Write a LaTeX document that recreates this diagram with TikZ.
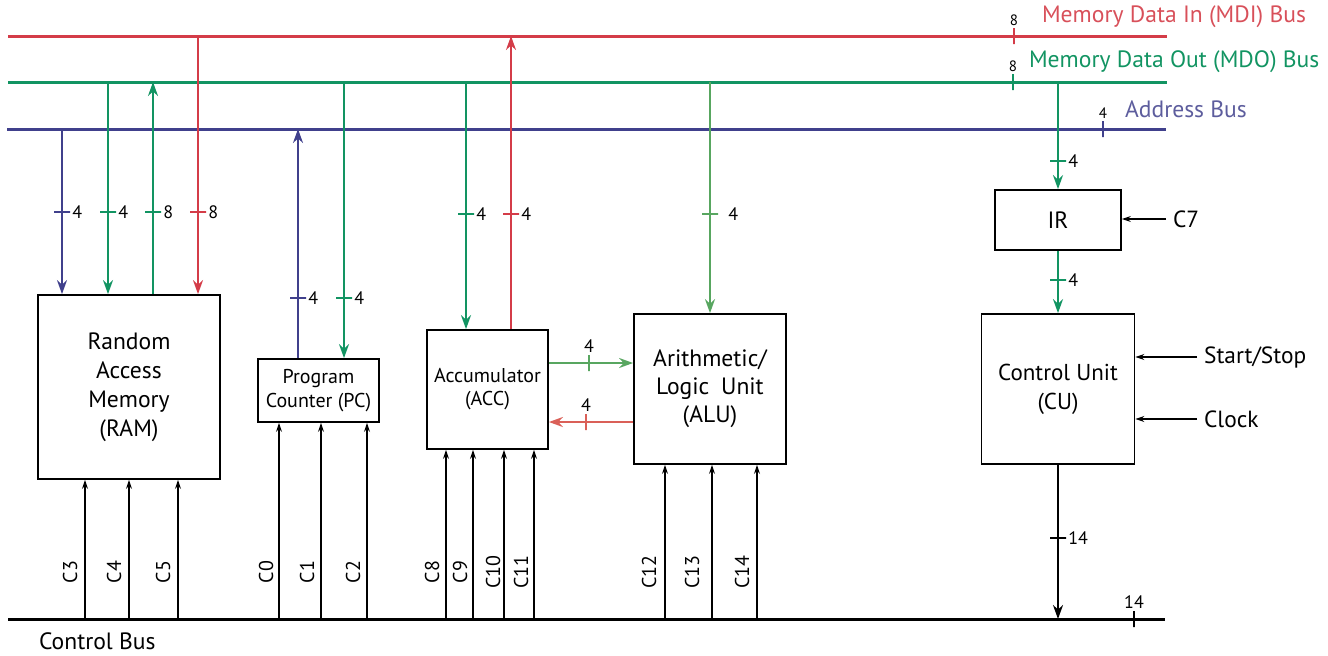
\documentclass[tikz,border=0pt]{standalone}
\usepackage{fontspec}
\setmainfont{PT Sans}
\usetikzlibrary{arrows.meta}
\definecolor{mdired}{RGB}{212,60,72}
\definecolor{mdogreen}{RGB}{18,148,98}
\definecolor{addrblue}{RGB}{64,64,140}
\definecolor{alugreen}{RGB}{88,166,96}
\definecolor{alured}{RGB}{218,96,88}
\begin{document}
\begin{tikzpicture}[x=0.5pt, y=-0.5pt, >=Stealth]
\tikzset{
  unit/.style={draw, line width=0.9pt, align=center, inner sep=0pt, font=\fontsize{11.8}{14.5}\selectfont},
  bus/.style={line width=1.5pt},
  wire/.style={line width=1pt, -{Stealth[length=7pt, width=5pt]}},
  ctl/.style={line width=0.6pt, -{Stealth[length=4.5pt, width=3pt]}},
  hbar/.style={draw, line width=0.7pt, minimum width=8pt, minimum height=0pt, inner sep=0pt, outer sep=0pt},
  vbar/.style={hbar, minimum width=0pt, minimum height=8pt},
  num/.style={font=\fontsize{9}{10}\selectfont, inner sep=1pt},
  busnum/.style={font=\fontsize{7.5}{8}\selectfont, inner sep=1pt},
  cname/.style={font=\fontsize{10}{11}\selectfont, rotate=90, inner sep=0pt},
  side/.style={anchor=west, font=\fontsize{11.7}{13}\selectfont},
  buslbl/.style={anchor=west, font=\fontsize{11.8}{13}\selectfont}
}
\useasboundingbox (0,0) rectangle (1328,655);

% buses
\draw[bus, mdired] (8,36) -- (1167,36);
\draw[bus, mdogreen] (8,82) -- (1167,82);
\draw[bus, addrblue] (7,129) -- (1166,129);
\draw[bus] (8,619) -- (1165,619);
\node[vbar, mdired, label={[busnum]above:8}] (mdiw) at (1014,36) {};
\node[vbar, mdogreen, label={[busnum]above:8}] (mdow) at (1013,82) {};
\node[vbar, addrblue, label={[busnum]above:4}] (addrw) at (1103,129) {};
\node[vbar, label={[num]above:14}] (ctlw) at (1134,619) {};
\node[buslbl, text=mdired!90!white] (mdi) at (1035,17) {Memory Data In (MDI) Bus};
\node[buslbl, text=mdogreen] (mdo) at (1022,62) {Memory Data Out (MDO) Bus};
\node[buslbl, text=addrblue!85!white] (addr) at (1118,109) {Address Bus};
\node[buslbl] (ctlbus) at (32,641) {Control Bus};

% units
\node[unit, minimum width=91pt, minimum height=92pt] (ram) at (129,387) {Random\\Access\\Memory\\(RAM)};
\node[unit, minimum width=60.5pt, minimum height=31.5pt, font=\fontsize{10}{12}\selectfont] (pc) at (318.5,390.5) {Program\\Counter (PC)};
\node[unit, minimum width=60.5pt, minimum height=59.5pt, font=\fontsize{10}{11.5}\selectfont] (acc) at (487.5,389.5) {Accumulator\\(ACC)};
\node[unit, minimum width=76pt, minimum height=75pt, font=\fontsize{11.8}{14}\selectfont] (alu) at (710,389) {Arithmetic/\\Logic\enspace Unit\\(ALU)};
\node[unit, minimum width=63pt, minimum height=30pt] (ir) at (1058,220) {IR};
\node[unit, minimum width=76.5pt, minimum height=75pt, font=\fontsize{11.5}{14.5}\selectfont] (cu) at (1058,389) {Control Unit\\(CU)};

% RAM
\coordinate (ramA) at (62,129);
\coordinate (ramIn) at (108,82);
\coordinate (ramOut) at (153,82);
\coordinate (ramMdi) at (198,36);
\draw[wire, addrblue] (ramA) -- (ramA |- ram.north);
\draw[wire, mdogreen] (ramIn) -- (ramIn |- ram.north);
\draw[wire, mdogreen] (ramOut |- ram.north) -- (ramOut);
\draw[wire, mdired] (ramMdi) -- (ramMdi |- ram.north);
\node[hbar, addrblue, label={[num]right:4}] (ramAw) at (62,212) {};
\node[hbar, mdogreen, label={[num]right:4}] (ramInw) at (108,212) {};
\node[hbar, mdogreen, label={[num]right:8}] (ramOutw) at (153,212) {};
\node[hbar, mdired, label={[num]right:8}] (ramMdiw) at (198,212) {};

% PC
\coordinate (pcA) at (298,129);
\coordinate (pcIn) at (344,82);
\draw[wire, addrblue] (pcA |- pc.north) -- (pcA);
\draw[wire, mdogreen] (pcIn) -- (pcIn |- pc.north);
\node[hbar, addrblue, label={[num]right:4}] (pcAw) at (298,298) {};
\node[hbar, mdogreen, label={[num]right:4}] (pcInw) at (344,298) {};

% ACC and ALU
\coordinate (accIn) at (466,82);
\coordinate (accOut) at (511,36);
\coordinate (aluIn) at (710,82);
\draw[wire, mdogreen] (accIn) -- (accIn |- acc.north);
\draw[wire, mdired] (accOut |- acc.north) -- (accOut);
\draw[wire, alugreen] (aluIn) -- (aluIn |- alu.north);
\draw[wire, alugreen] (acc.east |- 0,363) -- (alu.west |- 0,363);
\draw[wire, alured] (alu.west |- 0,422) -- (acc.east |- 0,422);
\node[hbar, mdogreen, label={[num]right:4}] (accInw) at (466,214) {};
\node[hbar, mdired, label={[num]right:4}] (accOutw) at (511,214) {};
\node[hbar, alugreen, label={[num, xshift=4pt]right:4}] (aluInw) at (710,214) {};
\node[vbar, alugreen, label={[num]above:4}] (accAluw) at (589,363) {};
\node[vbar, alured, label={[num]above:4}] (aluAccw) at (586,422) {};

% IR and CU
\coordinate (irIn) at (1058,82);
\coordinate (cuBus) at (1058,619);
\draw[wire, mdogreen] (irIn) -- (ir.north);
\draw[wire, mdogreen] (ir.south) -- (cu.north);
\draw[wire, black] (cu.south) -- (cuBus);
\node[hbar, mdogreen, label={[num]right:4}] (irInw) at (1058,161) {};
\node[hbar, mdogreen, label={[num]right:4}] (irOutw) at (1058,280) {};
\node[hbar, label={[num]right:14}] (cuOutw) at (1058,538) {};
\node[side] (c7) at (1166,219) {C7};
\node[side] (start) at (1197,357) {Start/Stop};
\node[side] (clock) at (1197,419) {Clock};
\draw[ctl] (c7.west) -- (ir.east |- c7.west);
\draw[ctl] (start.west) -- (cu.east |- start.west);
\draw[ctl] (clock.west) -- (cu.east |- clock.west);

% control lines
\foreach \x/\lx/\c in {85/70/C3, 129/114/C4, 178/163/C5} {
  \draw[ctl] (\x,619) -- (\x,0 |- ram.south);
  \node[cname] (l\c) at (\lx,572) {\c};
}
\foreach \x/\lx/\c in {279/266/C0, 321/307/C1, 367/353/C2} {
  \draw[ctl] (\x,619) -- (\x,0 |- pc.south);
  \node[cname] (l\c) at (\lx,572) {\c};
}
\foreach \x/\lx/\c in {446/432/C8, 473/460/C9, 504/493/C10, 534/521/C11} {
  \draw[ctl] (\x,619) -- (\x,0 |- acc.south);
  \node[cname] (l\c) at (\lx,572) {\c};
}
\foreach \x/\lx/\c in {665/649/C12, 712/692/C13, 757/742/C14} {
  \draw[ctl] (\x,619) -- (\x,0 |- alu.south);
  \node[cname] (l\c) at (\lx,572) {\c};
}
\end{tikzpicture}
\end{document}
